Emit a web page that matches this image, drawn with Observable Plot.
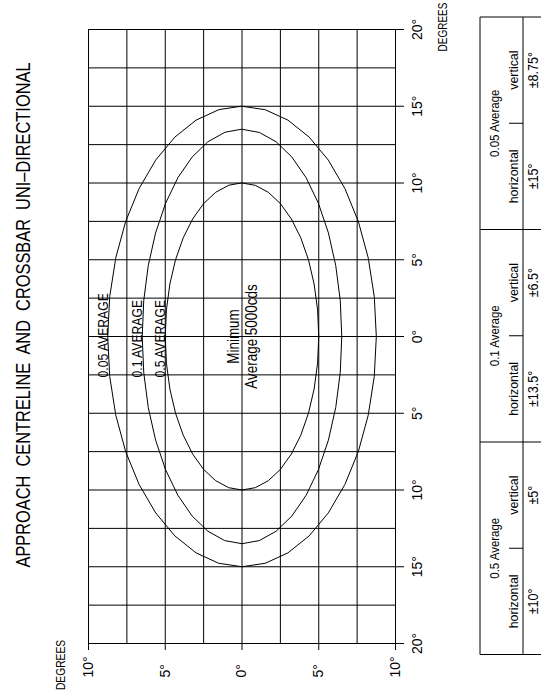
<!DOCTYPE html>
<html>
<head>
<meta charset="utf-8">
<script src="https://cdn.jsdelivr.net/npm/d3@7"></script>
<script src="https://cdn.jsdelivr.net/npm/@observablehq/plot@0.6"></script>
<style>
  html, body { margin: 0; padding: 0; background: #fff; }
  #wrap { position: relative; width: 541px; height: 697px; overflow: hidden; background: #fff; }
  #wrap svg { position: absolute; left: 0; top: 0; }
</style>
</head>
<body>
<div id="wrap"></div>
<script>
// ---- data ----
const titleText = "APPROACH  CENTRELINE  AND  CROSSBAR  UNI–DIRECTIONAL";
const axisName = "DEGREES";
const levels = ["0.5 Average", "0.1 Average", "0.05 Average"];
const horizontal = [10, 13.5, 15];     // ± degrees horizontal
const vertical = [5, 6.5, 8.75];       // ± degrees vertical
const contourLabels = ["0.5 AVERAGE", "0.1 AVERAGE", "0.05 AVERAGE"];
const centreLabel = "Minimum\nAverage 5000cds";
const vertTicks = [-10, -5, 0, 5, 10];
const horizTicks = [-20, -15, -10, -5, 0, 5, 10, 15, 20];
const gridX = [-10, -7.5, -5, -2.5, 0, 2.5, 5, 7.5, 10];
const gridY = [-20, -17.5, -15, -12.5, -10, -7.5, -5, -2.5, 0, 2.5, 5, 7.5, 10, 12.5, 15, 17.5, 20];
const subHeads = ["horizontal", "vertical"];

const FONT = "'Liberation Sans', Arial, Helvetica, sans-serif";
const deg = d => Math.abs(d) + "°";

// ellipse outlines built from the table's half-angles
const angles = d3.range(0, 360, 10);
const ellipsePts = levels.flatMap((lv, i) =>
  angles.map(a => ({
    level: lv,
    x: vertical[i] * Math.sin(a * Math.PI / 180),
    y: horizontal[i] * Math.cos(a * Math.PI / 180)
  }))
);

const chart = Plot.plot({
  width: 541,
  height: 697,
  marginLeft: 88,
  marginRight: 146,
  marginTop: 29,
  marginBottom: 54,
  x: {domain: [-10, 10]},
  y: {domain: [-20, 20]},
  style: {fontFamily: FONT, background: "white", color: "black", overflow: "visible"},
  marks: [
    Plot.ruleX(gridX, {x: d => d, stroke: "black", strokeWidth: 1}),
    Plot.ruleY(gridY, {y: d => d, stroke: "black", strokeWidth: 1}),
    Plot.line(ellipsePts, {x: "x", y: "y", z: "level", curve: "linear-closed", stroke: "black", strokeWidth: 1}),
    Plot.axisX(vertTicks, {
      anchor: "bottom", tickSize: 7, tickPadding: 27, tickRotate: -90,
      textAnchor: "start", lineAnchor: "middle", tickFormat: deg, fontSize: 14, label: null
    }),
    Plot.axisY(horizTicks, {
      anchor: "right", tickSize: 8, tickPadding: 9, tickRotate: -90,
      textAnchor: "middle", lineAnchor: "top", tickFormat: deg, fontSize: 14, label: null
    }),
    Plot.text(contourLabels, {
      x: (d, i) => -vertical[i], y: 0, text: d => d,
      rotate: -90, textAnchor: "start", lineAnchor: "bottom", dy: 41, fontSize: 14.5
    }),
    Plot.text([centreLabel], {
      x: 0, y: 0, text: d => d,
      rotate: -90, textAnchor: "middle", lineAnchor: "middle", lineHeight: 1.15, fontSize: 16
    })
  ]
});

// condense the lettering along its reading direction (CAD-style narrow font)
d3.select(chart).selectAll('g[aria-label="text"] text').each(function () {
  const t = this.getAttribute("transform") || "";
  this.setAttribute("transform", t + " scale(0.84,1)");
});

const wrap = document.getElementById("wrap");
wrap.appendChild(chart);

// ---- overlay: title, axis names, table ----
const ov = d3.create("svg")
  .attr("width", 541).attr("height", 697)
  .attr("font-family", FONT)
  .style("pointer-events", "none");

ov.append("text")
  .attr("transform", "translate(30,315) rotate(-90) scale(0.78,1)")
  .attr("text-anchor", "middle")
  .attr("font-size", 21)
  .style("white-space", "pre")
  .attr("xml:space", "preserve")
  .text(titleText);

ov.append("text")
  .attr("transform", "translate(65,665) rotate(-90) scale(0.76,1)")
  .attr("text-anchor", "middle")
  .attr("font-size", 13.5)
  .text(axisName);

ov.append("text")
  .attr("transform", "translate(447,27) rotate(-90) scale(0.74,1)")
  .attr("text-anchor", "middle")
  .attr("font-size", 13.5)
  .text(axisName);

// table (drawn in its own unrotated frame, then turned)
const bw = 212.5, n = levels.length, tw = bw * n, th = 90;
const tg = ov.append("g").attr("transform", "translate(480,654.5) rotate(-90)")
  .attr("stroke", "black").attr("stroke-width", 1);
const line = (x1, y1, x2, y2) => tg.append("line").attr("x1", x1).attr("y1", y1).attr("x2", x2).attr("y2", y2);
line(0, 0, tw, 0);
line(0, 43, tw, 43);
d3.range(n + 1).forEach(k => line(k * bw, 0, k * bw, th));
const txt = (u, v, s, fs, sx) => tg.append("text").attr("stroke", "none").attr("fill", "black")
  .attr("transform", `translate(${u},${v}) scale(${sx},1)`)
  .attr("text-anchor", "middle").attr("font-size", fs).text(s);
levels.forEach((lv, i) => {
  const u0 = i * bw;
  line(u0 + bw / 2, 29, u0 + bw / 2, 43);
  txt(u0 + bw / 2, 18.5, lv, 13.5, 0.85);
  [horizontal[i], vertical[i]].forEach((v, j) => {
    const cu = u0 + bw / 4 + j * bw / 2;
    txt(cu, 37.5, subHeads[j], 13.5, 0.92);
    txt(cu, 57.5, "±" + v + "°", 14, 0.9);
  });
});

wrap.appendChild(ov.node());
</script>
</body>
</html>
